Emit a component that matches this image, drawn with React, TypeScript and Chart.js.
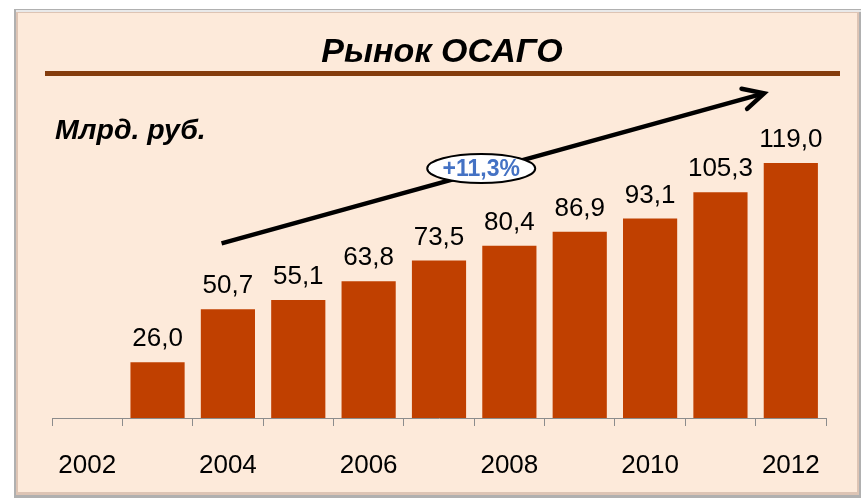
import React, { useEffect, useRef } from "react";
import { Chart, registerables } from "chart.js";

Chart.register(...registerables);

// ---- data ----
const years = ["2002", "2003", "2004", "2005", "2006", "2007", "2008", "2009", "2010", "2011", "2012"];
const tickLabels = ["2002", "", "2004", "", "2006", "", "2008", "", "2010", "", "2012"];
const marketValues: (number | null)[] = [null, 26.0, 50.7, 55.1, 63.8, 73.5, 80.4, 86.9, 93.1, 105.3, 119.0];
const titleText = "Рынок ОСАГО";
const unitText = "Млрд. руб.";
const growthText = "+11,3%";

const FONT = "'Liberation Sans', Arial, sans-serif";
const BAR = "#C04000";
const BG = "#FDEADA";

const fmt = (v: number) => v.toFixed(1).replace(".", ",");

const decor = {
  id: "decor",
  beforeDraw(chart: any) {
    const ctx = chart.ctx as CanvasRenderingContext2D;
    const W = chart.width, H = chart.height;
    ctx.save();
    ctx.fillStyle = "#ffffff";
    ctx.fillRect(0, 0, W, H);
    // outer frame / shadow
    ctx.fillStyle = "#b0b0b0";
    ctx.fillRect(14, 9, W - 14, H - 9);
    ctx.fillStyle = "#e9e9e9";
    ctx.fillRect(16, 10, W - 16, 2);
    ctx.fillStyle = "#ddc4b4";
    ctx.fillRect(16, 12, W - 16 - 2, H - 12 - 3);
    ctx.fillStyle = BG;
    ctx.fillRect(18, 13, W - 18 - 4, H - 13 - 6);
    ctx.restore();
  },
  afterDatasetsDraw(chart: any) {
    const ctx = chart.ctx as CanvasRenderingContext2D;
    const xs = chart.scales.x, ys = chart.scales.y;
    ctx.save();

    // title
    ctx.fillStyle = "#000";
    ctx.font = `bold italic 34px ${FONT}`;
    ctx.textAlign = "center";
    ctx.textBaseline = "alphabetic";
    ctx.fillText(titleText, 442, 62);
    // title underline
    ctx.fillStyle = "#843C0C";
    ctx.fillRect(45, 71, 795, 5);

    // unit
    ctx.fillStyle = "#000";
    ctx.font = `bold italic 28.5px ${FONT}`;
    ctx.textAlign = "left";
    ctx.fillText(unitText, 55, 139);

    // value labels
    const meta = chart.getDatasetMeta(0);
    ctx.font = `26px ${FONT}`;
    ctx.textAlign = "center";
    meta.data.forEach((bar: any, i: number) => {
      const v = marketValues[i];
      if (v == null) return;
      ctx.fillText(fmt(v), bar.x, bar.y - 16);
    });

    // growth arrow
    const x0 = xs.getPixelForValue(1.91), y0 = ys.getPixelForValue(81.5);
    const x1 = xs.getPixelForValue(9.62), y1 = ys.getPixelForValue(151.5);
    ctx.strokeStyle = "#000";
    ctx.lineWidth = 4.5;
    ctx.lineCap = "butt";
    ctx.beginPath();
    ctx.moveTo(x0, y0);
    ctx.lineTo(x1 - 2, y1 + 0.5);
    ctx.stroke();
    const ang = Math.atan2(y1 - y0, x1 - x0);
    const L = 23, th = (27 * Math.PI) / 180;
    ctx.lineCap = "round";
    ctx.lineJoin = "miter";
    ctx.beginPath();
    ctx.moveTo(x1 - L * Math.cos(ang - th), y1 - L * Math.sin(ang - th));
    ctx.lineTo(x1, y1);
    ctx.lineTo(x1 - L * Math.cos(ang + th), y1 - L * Math.sin(ang + th));
    ctx.stroke();

    // growth bubble
    const cx = xs.getPixelForValue(5.6), cy = ys.getPixelForValue(116.4);
    ctx.beginPath();
    ctx.ellipse(cx, cy, 54, 14.5, 0, 0, Math.PI * 2);
    ctx.fillStyle = "#ffffff";
    ctx.fill();
    ctx.lineWidth = 2;
    ctx.strokeStyle = "#000";
    ctx.stroke();
    ctx.fillStyle = "#4472C4";
    ctx.font = `bold 23px ${FONT}`;
    ctx.textAlign = "center";
    ctx.textBaseline = "middle";
    ctx.fillText(growthText, cx, cy + 1);

    ctx.restore();
  },
};

export default function App() {
  const ref = useRef<HTMLCanvasElement | null>(null);
  useEffect(() => {
    if (!ref.current) return;
    const chart = new Chart(ref.current, {
      type: "bar",
      data: {
        labels: years,
        datasets: [
          {
            data: marketValues as any,
            backgroundColor: BAR,
            borderWidth: 0,
            categoryPercentage: 1,
            barPercentage: 0.77,
          },
        ],
      },
      options: {
        responsive: false,
        animation: false,
        events: [],
        layout: { padding: { left: 52, right: 35, top: 118, bottom: 0 } },
        plugins: { legend: { display: false }, title: { display: false }, tooltip: { enabled: false } },
        scales: {
          x: {
            offset: true,
            grid: {
              offset: true,
              drawOnChartArea: false,
              drawTicks: true,
              tickLength: 8,
              color: "#8c8c8c",
              lineWidth: 1,
            },
            border: { display: true, color: "#8c8c8c", width: 1 },
            ticks: {
              autoSkip: false,
              maxRotation: 0,
              padding: 24,
              color: "#000",
              font: { family: FONT, size: 26 },
              callback: (_v: any, i: number) => tickLabels[i],
            },
            afterFit: (scale: any) => {
              scale.height = 80;
            },
          },
          y: { display: false, min: 0, max: 140 },
        },
      },
      plugins: [decor],
    });
    return () => chart.destroy();
  }, []);
  return (
    <div style={{ position: "absolute", left: 0, top: 0, width: 861, height: 498 }}>
      <canvas ref={ref} width={861} height={498} style={{ display: "block", width: 861, height: 498 }} />
    </div>
  );
}
